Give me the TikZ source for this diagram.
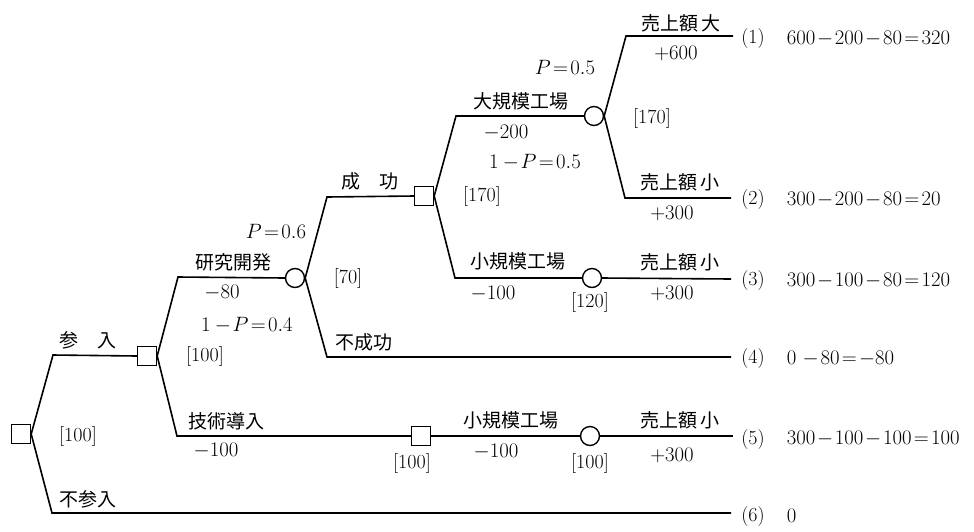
\documentclass[tikz,border=0pt]{standalone}
\usepackage{fontspec}
\newfontfamily\jp{Noto Sans CJK JP}
\newcommand{\tightmath}{\medmuskip=1.5mu\thickmuskip=2mu\relax}
\begin{document}
\begin{tikzpicture}[x=1pt,y=-1pt,line width=1.6pt,
  dec/.style={draw,rectangle,minimum size=19pt,inner sep=0pt,line width=1.4pt},
  chc/.style={draw,circle,minimum size=19pt,inner sep=0pt,line width=1.4pt},
  lbl/.style={font=\fontsize{19}{21}\selectfont\jp,inner sep=0pt},
  num/.style={font=\fontsize{20}{22}\selectfont\tightmath,inner sep=0pt},
  val/.style={font=\fontsize{20}{22}\selectfont\tightmath,inner sep=0pt,anchor=west}]
\useasboundingbox (0,0) rectangle (974,531);

% decision / chance nodes
\node[dec] (D0) at (21,434) {};
\node[dec] (D1) at (147,356) {};
\node[chc] (C1) at (295,278) {};
\node[dec] (D2) at (424,196) {};
\node[chc] (C2) at (594,116) {};
\node[chc] (C3) at (592,278) {};
\node[dec] (D3) at (421,436) {};
\node[chc] (C4) at (590,436) {};

% end points
\coordinate (E1) at (733,36);
\coordinate (E2) at (731,198);
\coordinate (E3) at (731,279);
\coordinate (E4) at (731,357);
\coordinate (E5) at (733,436);
\coordinate (E6) at (731,513);

% branches
\draw (D0.east) -- (53,355) -- (D1.west);
\draw (D0.east) -- (52,513) -- (E6);
\draw (D1.east) -- (178,277) -- (C1.west);
\draw (D1.east) -- (177,436) -- (D3.west);
\draw (C1.east) -- (327,197) -- (D2.west);
\draw (C1.east) -- (327,357) -- (E4);
\draw (D2.east) -- (456,116) -- (C2.west);
\draw (D2.east) -- (455,278) -- (C3.west);
\draw (C2.east) -- (626,36) -- (E1);
\draw (C2.east) -- (625,198) -- (E2);
\draw (C3.east) -- (E3);
\draw (D3.east) -- (C4.west);
\draw (C4.east) -- (E5);

% labels
\node[lbl] (l1) at (88,340) {参　入};
\node[num] (l2) at (78,436) {[100]};
\node[lbl] (l3) at (88,499) {不参入};
\node[lbl] (l4) at (233,262) {研究開発};
\node[num] (l5) at (222,293) {$-80$};
\node[num] (l6) at (247,325) {$1\;-P=0.4$};
\node[num] (l7) at (205,356) {[100]};
\node[lbl] (l8) at (226,421) {技術導入};
\node[num] (l9) at (216,451) {$-100$};
\node[num] (l10) at (276,231) {$P=0.6$};
\node[num] (l11) at (348,278) {[70]};
\node[lbl] (l12) at (364,342) {不成功};
\node[lbl] (l13) at (370,181) {成　功};
\node[lbl] (l14) at (521,101) {大規模工場};
\node[num] (l15) at (506,133) {$-200$};
\node[num] (l16) at (535,162) {$1\;-P=0.5$};
\node[num] (l17) at (482,196) {[170]};
\node[lbl] (l18) at (518,261) {小規模工場};
\node[num] (l19) at (493,294) {$-100$};
\node[num] (l20) at (590,302) {[120]};
\node[num] (l21) at (565,67) {$P=0.5$};
\node[num] (l22) at (652,118) {[170]};
\node[lbl] (l23) at (681,23) {売上額\,大};
\node[num] (l24) at (676,53) {$+600$};
\node[lbl] (l25) at (680,182) {売上額\,小};
\node[num] (l26) at (672,213) {$+300$};
\node[lbl] (l27) at (680,262) {売上額\,小};
\node[num] (l28) at (672,293) {$+300$};
\node[num] (l29) at (412,463) {[100]};
\node[lbl] (l30) at (511,420) {小規模工場};
\node[num] (l31) at (496,452) {$-100$};
\node[num] (l32) at (590,463) {[100]};
\node[lbl] (l33) at (680,420) {売上額\,小};
\node[num] (l34) at (672,455) {$+300$};

% outcomes
\node[num] (o1) at (753,39) {(1)};
\node[num] (o2) at (753,200) {(2)};
\node[num] (o3) at (753,281) {(3)};
\node[num] (o4) at (753,359) {(4)};
\node[num] (o5) at (753,439) {(5)};
\node[num] (o6) at (753,516) {(6)};
\node[val] (v1) at (786,39) {$600-200-80=320$};
\node[val] (v2) at (786,200) {$300-200-80=20$};
\node[val] (v3) at (786,281) {$300-100-80=120$};
\node[val] (v4) at (786,359) {$0\;\;-80=-80$};
\node[val] (v5) at (786,439) {$300-100-100=100$};
\node[val] (v6) at (786,516) {$0$};
\end{tikzpicture}
\end{document}
